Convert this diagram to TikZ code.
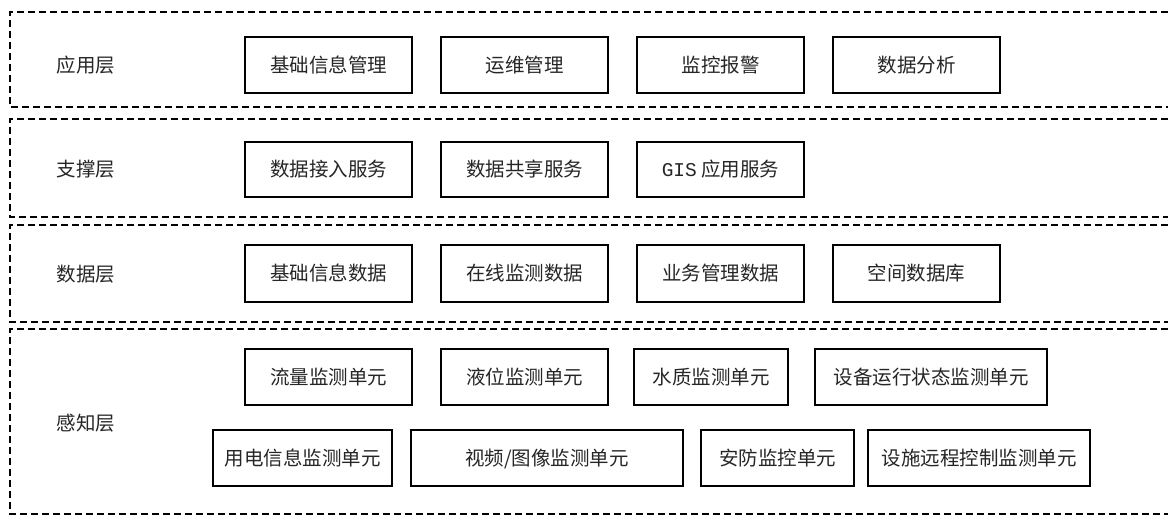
\documentclass[tikz,border=0pt]{standalone}
\usepackage{fontspec}
\newfontfamily\cjk{Noto Sans CJK SC}
\newfontfamily\monofnt{Liberation Mono}
\tikzset{
  layerbox/.style={draw=black, line width=1.3pt, dash pattern=on 7pt off 4pt},
  unitbox/.style={draw=black, line width=1.3pt, rectangle, inner sep=0pt,
    text height=17pt, text depth=2.4pt, text=black!85,
    font=\cjk\fontsize{19.5}{19.5}\selectfont},
  layerlabel/.style={font=\cjk\fontsize{19.5}{19.5}\selectfont, text=black!85, inner sep=0pt,
    text height=17pt, text depth=2.4pt},
}
\newcommand{\ubox}[6]{% name, x1, x2, y1, y2, text
  \node[unitbox, minimum width=#3-#2, minimum height=#5-#4] (#1) at ({(#2+#3)/2},{(#4+#5)/2}) {#6};}
\begin{document}
\begin{tikzpicture}[x=1pt,y=-1pt]
\useasboundingbox (0,0) rectangle (1168,516);
\clip (0,0) rectangle (1168,516);
\fill[white] (0,0) rectangle (1168,516);
% layers
\draw[layerbox] (1190,12) -- (10,12) -- (10,107) -- (1190,107);
\draw[layerbox] (1190,119) -- (10,119) -- (10,217) -- (1190,217);
\draw[layerbox] (1190,225) -- (10,225) -- (10,322) -- (1190,322);
\draw[layerbox] (1190,329) -- (10,329) -- (10,514) -- (1190,514);
\node[layerlabel] (l1) at (86,65) {应用层};
\node[layerlabel] (l2) at (86,169) {支撑层};
\node[layerlabel] (l3) at (86,274) {数据层};
\node[layerlabel] (l4) at (86,423) {感知层};
% application layer
\ubox{a1}{245}{412}{37}{93}{基础信息管理}
\ubox{a2}{441}{608}{37}{93}{运维管理}
\ubox{a3}{637}{804}{37}{93}{监控报警}
\ubox{a4}{833}{1000}{37}{93}{数据分析}
% support layer
\ubox{s1}{245}{412}{142}{197}{数据接入服务}
\ubox{s2}{441}{608}{142}{197}{数据共享服务}
\ubox{s3}{637}{804}{142}{197}{{\monofnt GIS} 应用服务}
% data layer
\ubox{d1}{245}{412}{245}{302}{基础信息数据}
\ubox{d2}{441}{608}{245}{302}{在线监测数据}
\ubox{d3}{637}{804}{245}{302}{业务管理数据}
\ubox{d4}{833}{1000}{245}{302}{空间数据库}
% perception layer
\ubox{p1}{245}{412}{349}{405}{流量监测单元}
\ubox{p2}{441}{608}{349}{405}{液位监测单元}
\ubox{p3}{634}{788}{349}{405}{水质监测单元}
\ubox{p4}{815}{1047}{349}{405}{设备运行状态监测单元}
\ubox{p5}{213}{392}{430}{486}{用电信息监测单元}
\ubox{p6}{411}{683}{430}{486}{视频/图像监测单元}
\ubox{p7}{701}{854}{430}{486}{安防监控单元}
\ubox{p8}{868}{1090}{430}{486}{设施远程控制监测单元}
\end{tikzpicture}
\end{document}
